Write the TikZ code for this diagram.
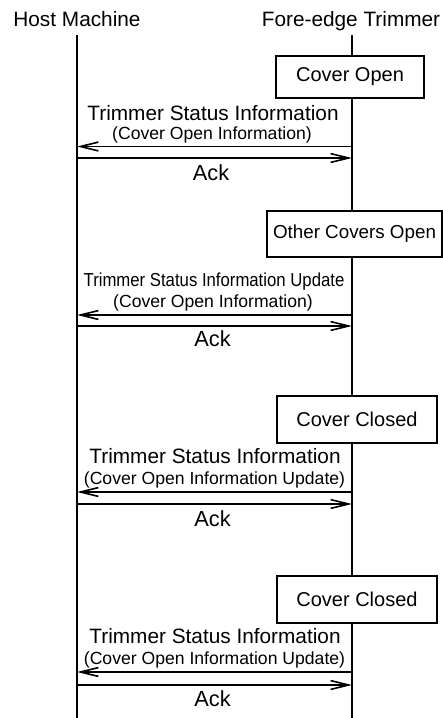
\documentclass[tikz,border=0pt]{standalone}
\usepackage{fontspec}
\setmainfont{Liberation Sans}
\usetikzlibrary{arrows.meta}
\tikzset{
  lifeline/.style={line width=0.75pt},
  msg/.style={line width=0.8pt,-{Straight Barb[length=9pt,width=4.4pt,line width=0.8pt]}},
  statebox/.style={draw,line width=0.8pt,fill=white,inner sep=0pt,font=\fontsize{10}{12}\selectfont},
  actor/.style={anchor=base,font=\fontsize{10.4}{12}\selectfont},
  msgtext/.style={anchor=base,inner sep=0pt,font=\fontsize{10.4}{12}\selectfont},
  msgsub/.style={anchor=base,inner sep=0pt,font=\fontsize{8.8}{10}\selectfont},
  acktext/.style={anchor=base,inner sep=0pt,font=\fontsize{10.9}{12}\selectfont},
}
\begin{document}
\begin{tikzpicture}[x=0.5pt,y=-0.5pt]
\useasboundingbox (0,0) rectangle (443,718);
% actors and lifelines
\node [actor] (host) at (77,26.7) {Host Machine};
\node [actor] (trim) at (351,26.7) {Fore-edge Trimmer};
\coordinate (htop) at (77,35); \coordinate (hbot) at (77,718);
\coordinate (ttop) at (352,35); \coordinate (tbot) at (352,718);
\draw [lifeline] (htop) -- (hbot);
\draw [lifeline] (ttop) -- (tbot);
% cover open
\node [statebox,minimum width=74pt,minimum height=21pt] (s1) at (350,77) {Cover Open};
\node [msgtext] (m1) at (213,120) {Trimmer Status Information};
\node [msgsub] (n1) at (212,139.3) {(Cover Open Information)};
\coordinate (t1) at (352,146.5); \coordinate (h1) at (77,146.5);
\coordinate (h1a) at (77,158); \coordinate (t1a) at (352,158);
\draw [msg] (t1) -- (h1);
\draw [msg] (h1a) -- (t1a);
\node [acktext] (a1) at (211,180) {Ack};
% other covers open
\node [statebox,minimum width=87.5pt,minimum height=23pt,font=\fontsize{9.4}{11}\selectfont] (s2) at (354.5,234) {Other Covers Open};
\node [msgtext,font=\fontsize{9.4}{11}\selectfont] (m2) at (214,286.7) {\scalebox{0.89}[1]{Trimmer Status Information Update}};
\node [msgsub] (n2) at (213,307) {(Cover Open Information)};
\coordinate (t2) at (352,315); \coordinate (h2) at (77,315);
\coordinate (h2a) at (77,326); \coordinate (t2a) at (352,326);
\draw [msg] (t2) -- (h2);
\draw [msg] (h2a) -- (t2a);
\node [acktext] (a2) at (212.5,346.7) {Ack};
% cover closed
\node [statebox,minimum width=80pt,minimum height=23.5pt] (s3) at (357,419.5) {Cover Closed};
\node [msgtext] (m3) at (215,463) {Trimmer Status Information};
\node [msgsub] (n3) at (214.5,484) {(Cover Open Information Update)};
\coordinate (t3) at (352,492); \coordinate (h3) at (77,492);
\coordinate (h3a) at (77,504); \coordinate (t3a) at (352,504);
\draw [msg] (t3) -- (h3);
\draw [msg] (h3a) -- (t3a);
\node [acktext] (a3) at (212.5,526.7) {Ack};
% cover closed again
\node [statebox,minimum width=80pt,minimum height=23.5pt] (s4) at (357,599.5) {Cover Closed};
\node [msgtext] (m4) at (215,643) {Trimmer Status Information};
\node [msgsub] (n4) at (214.5,664) {(Cover Open Information Update)};
\coordinate (t4) at (352,672); \coordinate (h4) at (77,672);
\coordinate (h4a) at (77,685); \coordinate (t4a) at (352,685);
\draw [msg] (t4) -- (h4);
\draw [msg] (h4a) -- (t4a);
\node [acktext] (a4) at (212.5,706.7) {Ack};
\end{tikzpicture}
\end{document}
